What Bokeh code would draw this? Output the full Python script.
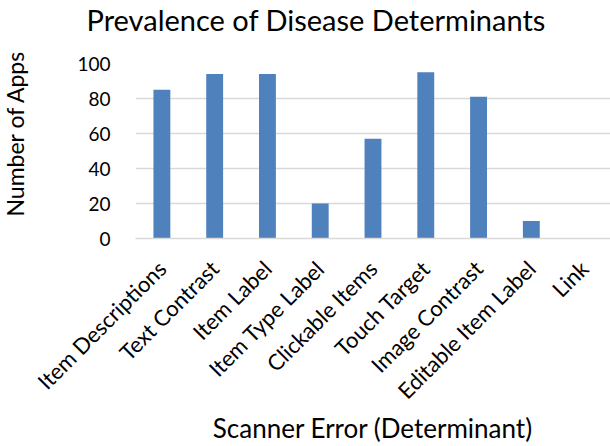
import math
from bokeh.plotting import figure
from bokeh.models import ColumnDataSource, Title
from bokeh.embed import file_html
from bokeh.resources import INLINE

categories = ["Item Descriptions", "Text Contrast", "Item Label", "Item Type Label",
              "Clickable Items", "Touch Target", "Image Contrast", "Editable Item Label", "Link"]
counts = [85, 94, 94, 20, 57, 95, 81, 10, 0]
y_ticks = [0, 20, 40, 60, 80, 100]
title_text = "Prevalence of Disease Determinants"
x_title = "Scanner Error (Determinant)"
y_title = "Number of Apps"

FONT = "Lato"
src = ColumnDataSource(dict(cat=categories, n=counts))

p = figure(x_range=categories, y_range=(0, 100), width=610, height=446,
           output_backend="svg", toolbar_location=None,
           min_border_left=134, min_border_right=0, min_border_top=63, min_border_bottom=207)
p.title = None

p.vbar(x="cat", top="n", width=0.32, source=src, color="#4F81BD", line_color=None)

p.outline_line_color = None
p.xgrid.grid_line_color = None
p.ygrid.grid_line_color = "#D9D9D9"
p.ygrid.grid_line_width = 1.5
p.yaxis.ticker = y_ticks
p.yaxis.axis_line_color = None
p.yaxis.major_tick_line_color = None
p.yaxis.minor_tick_line_color = None
p.yaxis.major_label_standoff = 19
p.yaxis.major_label_text_font = FONT
p.yaxis.major_label_text_font_size = "19px"
p.yaxis.major_label_text_color = "black"

p.xaxis.axis_line_color = "#D9D9D9"
p.xaxis.axis_line_width = 1.5
p.xaxis.major_tick_line_color = None
p.xaxis.minor_tick_line_color = None
p.xaxis.major_label_orientation = math.pi / 4
p.xaxis.major_label_standoff = 20
p.xaxis.major_label_text_font = FONT
p.xaxis.major_label_text_font_size = "22px"
p.xaxis.major_label_text_color = "black"
p.xaxis.axis_label = x_title
p.xaxis.axis_label_text_font = FONT
p.xaxis.axis_label_text_font_size = "26px"
p.xaxis.axis_label_text_font_style = "normal"
p.xaxis.axis_label_text_color = "black"
p.xaxis.axis_label_standoff = -5

p.add_layout(Title(text=title_text, align="left", offset=-49, standoff=0, vertical_align="top",
                   padding=dict(left=0, right=0, top=1, bottom=25),
                   text_font=FONT, text_font_size="29px", text_font_style="normal",
                   text_color="black"), "above")
p.add_layout(Title(text=y_title, align="left", offset=6, standoff=0, vertical_align="top",
                   padding=dict(left=16, right=28, top=0, bottom=0),
                   text_font=FONT, text_font_size="23px", text_font_style="normal",
                   text_color="black"), "left")

open("out.html", "w").write(file_html(p, INLINE))
